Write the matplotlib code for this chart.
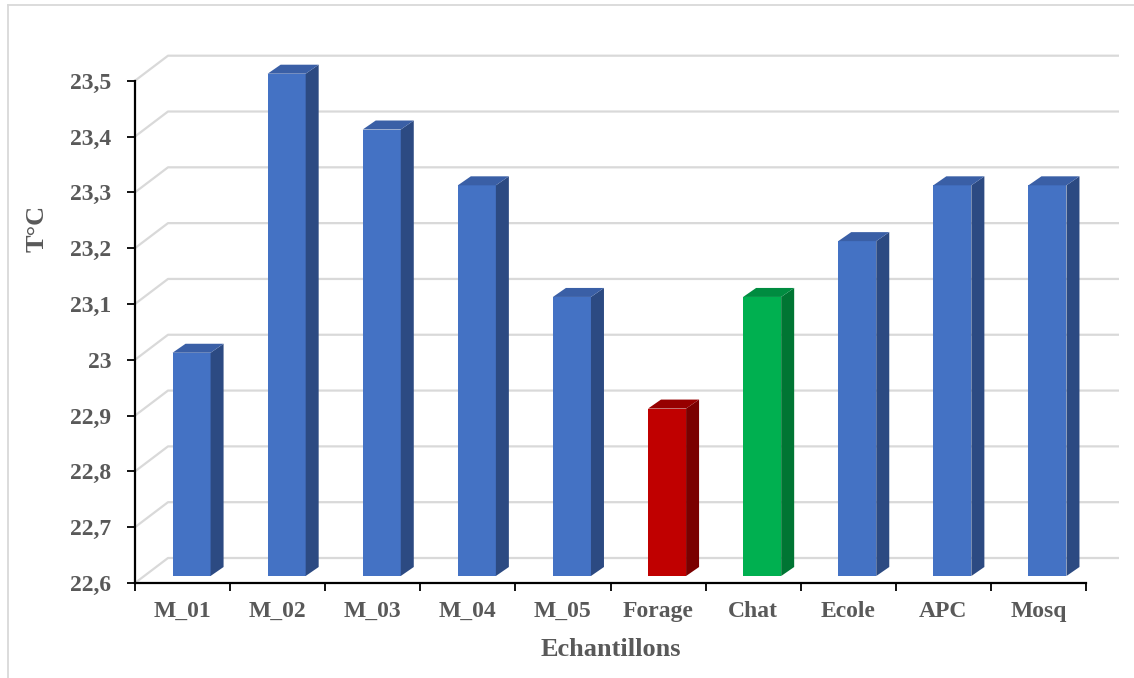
import numpy as np
import matplotlib
matplotlib.use("Agg")
import matplotlib.pyplot as plt
from matplotlib.patches import Polygon
from matplotlib.lines import Line2D

plt.rcParams['font.family'] = ['Liberation Serif', 'DejaVu Serif']
plt.rcParams['font.weight'] = 'bold'

# Température par échantillon
echantillons = ["M_01", "M_02", "M_03", "M_04", "M_05", "Forage", "Chat", "Ecole", "APC", "Mosq"]
temperature = [23.0, 23.5, 23.4, 23.3, 23.1, 22.9, 23.1, 23.2, 23.3, 23.3]
yticks = [22.6, 22.7, 22.8, 22.9, 23.0, 23.1, 23.2, 23.3, 23.4, 23.5]
ytick_labels = ["22,6", "22,7", "22,8", "22,9", "23", "23,1", "23,2", "23,3", "23,4", "23,5"]

# couleurs : face avant, dessus, côté
couleurs = {
    "bleu": ("#4472C4", "#3A5FA6", "#2C4A82"),
    "rouge": ("#C00000", "#960000", "#7A0000"),
    "vert": ("#00B050", "#008C40", "#007533"),
}
palette = ["bleu"] * 5 + ["rouge", "vert"] + ["bleu"] * 3

gris_texte = "#595959"
gris_grille = "#D9D9D9"

W, H = 1134, 678
fig = plt.figure(figsize=(W / 100, H / 100), dpi=100)
ax = fig.add_axes([135 / W, 1 - 583 / H, (1086 - 135) / W, (583 - 80.7) / H])
n = len(echantillons)
ax.set_xlim(0, n)
ax.set_ylim(yticks[0], yticks[-1])

# pixels -> unités de données
ppx = ax.bbox.width / n
ppy = ax.bbox.height / (yticks[-1] - yticks[0])

def dpx(px, py):
    return px / ppx, py / ppy

# paroi du fond (perspective)
bx, by = dpx(33, 25)
for v in yticks:
    ax.plot([0, bx, n + bx], [v, v + by, v + by], color=gris_grille, lw=1.6,
            clip_on=False, zorder=0.5, solid_capstyle='butt')

# barres en pseudo-3D
fx, fy = dpx(9, 7)
sx, sy = dpx(13, 9)
larg = 0.4
base = yticks[0] + fy
for i, (v, c) in enumerate(zip(temperature, palette)):
    avant, dessus, cote = couleurs[c]
    x0 = i + 0.5 - larg / 2 + fx
    x1 = x0 + larg
    ax.bar(x0, v - yticks[0], bottom=base, width=larg, align='edge',
           color=avant, clip_on=False, zorder=2)
    top = v + fy
    ax.add_patch(Polygon([(x1, base), (x1 + sx, base + sy), (x1 + sx, top + sy), (x1, top)],
                         closed=True, facecolor=cote, edgecolor='none', clip_on=False, zorder=2))
    ax.add_patch(Polygon([(x0, top), (x0 + sx, top + sy), (x1 + sx, top + sy), (x1, top)],
                         closed=True, facecolor=dessus, edgecolor='none', clip_on=False, zorder=2))

# axes
for s in ["top", "right"]:
    ax.spines[s].set_visible(False)
for s in ["left", "bottom"]:
    ax.spines[s].set_color("black")
    ax.spines[s].set_linewidth(1.6)
    ax.spines[s].set_zorder(3)

ax.set_yticks(yticks)
ax.set_yticklabels(ytick_labels)
ax.tick_params(axis='y', length=6, width=1.3, color='black', pad=11,
               labelsize=17, labelcolor=gris_texte)

ax.set_xticks(np.arange(n + 1))
ax.set_xticklabels([])
ax.set_xticks(np.arange(n) + 0.5, minor=True)
ax.set_xticklabels(echantillons, minor=True)
ax.tick_params(axis='x', which='major', length=6, width=1.3, color='black')
ax.tick_params(axis='x', which='minor', length=0, pad=13, labelsize=17, labelcolor=gris_texte)

fig.text(611 / W, 1 - 650 / H, "Echantillons", ha='center', va='center',
         fontsize=19, color=gris_texte, fontweight='bold')
fig.text(37 / W, 1 - 228 / H, "T°C", ha='center', va='center', rotation=90,
         fontsize=19, color=gris_texte, fontweight='bold')

# cadre du graphique
fig.add_artist(Line2D([7.5 / W, 7.5 / W], [0, 1 - 4.5 / H], color=gris_grille, lw=1.3))
fig.add_artist(Line2D([7.5 / W, 1], [1 - 4.5 / H, 1 - 4.5 / H], color=gris_grille, lw=1.3))

fig.savefig("out.png", dpi=100)
